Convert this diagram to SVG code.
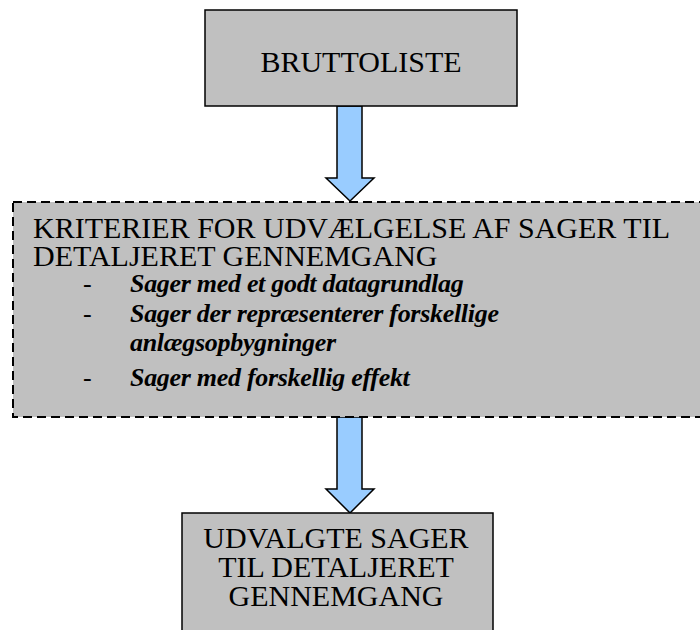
<svg xmlns="http://www.w3.org/2000/svg" width="700" height="630" viewBox="0 0 700 630">
  <style>
    .box { fill: #c0c0c0; stroke: #000; stroke-width: 1.5; }
    .dash { fill: #c0c0c0; stroke: #000; stroke-width: 2; stroke-dasharray: 9 5; }
    .arrow { fill: #99ccff; stroke: #000; stroke-width: 1.5; stroke-linejoin: miter; }
    text { font-family: 'Liberation Serif', 'Times New Roman', serif; fill: #000; }
    .t { font-size: 30px; }
    .b { font-size: 26px; font-weight: bold; font-style: italic; letter-spacing: -0.3px; }
    .h { font-size: 26px; }
  </style>
  <rect width="700" height="630" fill="#fff"/>

  <g id="connectors">
    <polygon class="arrow" points="337,106 362,106 362,178 374,178 350,201 326,178 337,178"/>
    <polygon class="arrow" points="337,417 362,417 362,489 374,489 350,513 326,489 337,489"/>
  </g>

  <g id="bruttoliste">
    <rect class="box" x="205" y="10" width="312" height="96"/>
    <text class="t" x="361" y="72" text-anchor="middle">BRUTTOLISTE</text>
  </g>

  <g id="kriterier">
    <rect class="dash" x="13" y="202" width="700" height="215"/>
    <text class="t" x="33" y="238">KRITERIER FOR UDVÆLGELSE AF SAGER TIL</text>
    <text class="t" x="33" y="266">DETALJERET GENNEMGANG</text>
    <text class="h" x="83" y="292">-</text>
    <text class="b" x="130" y="292">Sager med et godt datagrundlag</text>
    <text class="h" x="83" y="322">-</text>
    <text class="b" x="130" y="322">Sager der repræsenterer forskellige</text>
    <text class="b" x="130" y="351">anlægsopbygninger</text>
    <text class="h" x="83" y="386">-</text>
    <text class="b" x="130" y="386">Sager med forskellig effekt</text>
  </g>

  <g id="udvalgte">
    <rect class="box" x="182" y="513" width="311" height="130"/>
    <text class="t" x="336" y="548" text-anchor="middle">UDVALGTE SAGER</text>
    <text class="t" x="336" y="577" text-anchor="middle">TIL DETALJERET</text>
    <text class="t" x="336" y="606" text-anchor="middle">GENNEMGANG</text>
  </g>
</svg>
